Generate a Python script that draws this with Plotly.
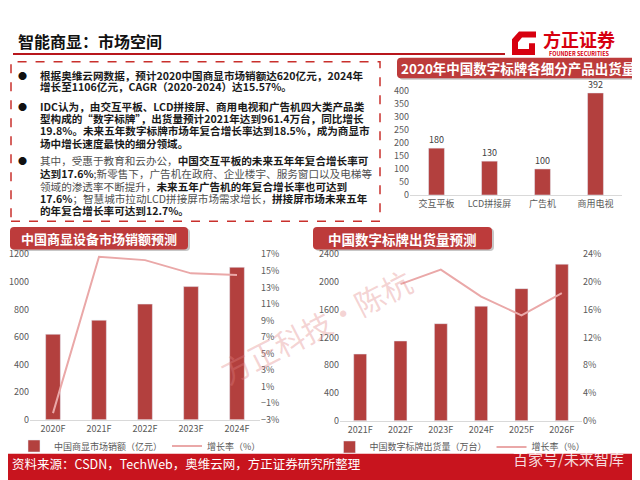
import plotly.graph_objects as go

# 2020 shipments by product (万台)
seg_products = ["交互平板", "LCD拼接屏", "广告机", "商用电视"]
seg_shipments = [180, 130, 100, 392]

# commercial display market sales forecast
sales_years = ["2020F", "2021F", "2022F", "2023F", "2024F"]
sales_value = [620, 722, 839, 966, 1106]
sales_growth = [-2.2, 16.7, 16.3, 14.7, 14.5]

# digital signage shipments forecast
signage_years = ["2021F", "2022F", "2023F", "2024F", "2025F", "2026F"]
signage_value = [961.4, 1150, 1400, 1652, 1905, 2258]
signage_growth = [None, 19.7, 21.8, 17.9, 15.2, 18.4]

BAR = "#b3403e"
LINE = "#eaa8a8"
BOX = "#bd3b3b"
FONT = "Noto Sans CJK SC"
W, H = 640, 480
OFF = 8  # page body margin pushes the figure 8px right/down


def px(x):
    return (x - OFF) / W


def py(y):
    return 1 - (y - OFF) / H


def rounded_box(x0, y0, x1, y1, r=4):
    # rounded rectangle in paper coords, built from pixel values
    a, b, c, d = px(x0), px(x1), py(y0), py(y1)
    rx, ry = r / W, r / H
    return (f"M{a + rx},{c} L{b - rx},{c} Q{b},{c} {b},{c - ry} "
            f"L{b},{d + ry} Q{b},{d} {b - rx},{d} L{a + rx},{d} "
            f"Q{a},{d} {a},{d + ry} L{a},{c - ry} Q{a},{c} {a + rx},{c} Z")


fig = go.Figure()

fig.add_trace(go.Bar(
    x=seg_products, y=seg_shipments, xaxis="x", yaxis="y",
    marker_color=BAR, width=0.3,
    name="数字标牌各细分产品出货量（万台）", legend="legend"))

fig.add_trace(go.Bar(
    x=sales_years, y=sales_value, xaxis="x2", yaxis="y2",
    marker_color=BAR, width=0.32,
    name="中国商显市场销额（亿元）", legend="legend2"))
fig.add_trace(go.Scatter(
    x=sales_years, y=sales_growth, xaxis="x2", yaxis="y3", mode="lines",
    line=dict(color=LINE, width=2), name="增长率（%）", legend="legend2"))

fig.add_trace(go.Bar(
    x=signage_years, y=signage_value, xaxis="x3", yaxis="y4",
    marker_color=BAR, width=0.32,
    name="中国数字标牌出货量（万台）", legend="legend3"))
fig.add_trace(go.Scatter(
    x=signage_years, y=signage_growth, xaxis="x3", yaxis="y5", mode="lines",
    line=dict(color=LINE, width=2), name="增长率（%）", legend="legend3"))

tick = dict(size=9, color="#595959")
xcommon = dict(showline=True, linecolor="#d9d9d9", ticks="", tickfont=tick,
               showgrid=False, fixedrange=True)
ycommon = dict(showgrid=False, zeroline=False, tickfont=tick, ticks="")

legend_common = dict(orientation="h", font=dict(size=9, color="#595959"),
                     bgcolor="rgba(0,0,0,0)", itemwidth=30,
                     xanchor="center", yanchor="middle", tracegroupgap=0)

fig.update_layout(
    width=W, height=H, margin=dict(l=0, r=0, t=0, b=0),
    paper_bgcolor="white", plot_bgcolor="rgba(0,0,0,0)",
    font=dict(family=FONT, color="#333333"),
    xaxis=dict(domain=[px(410), px(622)], anchor="y", **xcommon),
    yaxis=dict(domain=[py(193), py(86)], anchor="x", range=[0, 400],
               dtick=50, **ycommon),
    xaxis2=dict(domain=[px(30), px(260)], anchor="y2", **xcommon),
    yaxis2=dict(domain=[py(424), py(254)], anchor="x2", range=[0, 1200],
                dtick=200, **ycommon),
    yaxis3=dict(overlaying="y2", side="right", anchor="x2", range=[-3, 17],
                tick0=1, dtick=2, ticksuffix="%", **ycommon),
    xaxis3=dict(domain=[px(340), px(582)], anchor="y4", **xcommon),
    yaxis4=dict(domain=[py(425), py(254)], anchor="x3", range=[0, 2400],
                dtick=400, **ycommon),
    yaxis5=dict(overlaying="y4", side="right", anchor="x3", range=[0, 24],
                dtick=4, ticksuffix="%", **ycommon),
    legend=dict(x=px(522), y=py(216), **legend_common),
    legend2=dict(x=px(140), y=py(451), **legend_common),
    legend3=dict(x=px(460), y=py(452), **legend_common),
)

shapes = []
# header rule
shapes.append(dict(type="line", xref="paper", yref="paper",
                   x0=px(13), x1=px(505), y0=py(48), y1=py(48),
                   line=dict(color="#b8161c", width=2)))
# dashed text frame
shapes.append(dict(type="rect", xref="paper", yref="paper",
                   x0=px(11), x1=px(380), y0=py(220), y1=py(56),
                   line=dict(color="#c9302c", width=1.5, dash="dash")))
# title boxes with shadows
for (x0, y0, x1, y1) in [(397, 52, 640, 73), (10, 226, 188, 249),
                         (313, 226, 492, 249)]:
    shapes.append(dict(type="path", xref="paper", yref="paper", layer="below",
                       path=rounded_box(x0 + 2, y0 + 1.5, min(x1 + 2, W), y1 + 1.5),
                       fillcolor="rgba(0,0,0,0.22)", line=dict(width=0)))
    shapes.append(dict(type="path", xref="paper", yref="paper", layer="below",
                       path=rounded_box(x0, y0, x1, y1),
                       fillcolor=BOX, line=dict(width=0)))
# footer band
shapes.append(dict(type="rect", xref="paper", yref="paper",
                   x0=px(0), x1=px(650), y0=py(490), y1=py(459),
                   fillcolor="#c8141e", line=dict(width=0), layer="above"))
# logo mark
logo = [(519, 25), (536, 25), (536, 31), (522, 31), (518, 36), (518, 43),
        (529, 43), (529, 37), (535, 37), (535, 49), (512, 49), (512, 33)]
path = "M" + " L".join(f"{px(x)},{py(y)}" for x, y in logo) + " Z"
shapes.append(dict(type="path", xref="paper", yref="paper", path=path,
                   fillcolor="#d7000f", line=dict(width=0)))
fig.update_layout(shapes=shapes)

ann = []

# bar value labels, anchored on the data
for cat, val in zip(seg_products, seg_shipments):
    ann.append(dict(x=cat, y=val, xref="x", yref="y", text=str(val),
                    showarrow=False, yanchor="bottom", yshift=0,
                    font=dict(size=9, color="#404040", family=FONT)))


def text(x, y, s, size=11, color="#1a1a1a", anchor="left", **kw):
    ann.append(dict(x=px(x), y=py(y), xref="paper", yref="paper", text=s,
                    showarrow=False, xanchor=anchor, yanchor="middle",
                    font=dict(size=size, color=color, family=FONT), **kw))


text(16, 35, "<b>智能商显：市场空间</b>", size=16, color="#111111")
text(541, 33, "<b>方正证券</b>", size=18, color="#d7000f")
text(579, 48, "<b>FOUNDER SECURITIES</b>", size=5.5, color="#d7000f",
     anchor="center")

g = "<span style='color:#505050'>%s</span>"
lines = [
    (70, "<b>根据奥维云网数据，预计2020中国商显市场销额达620亿元，2024年</b>", True),
    (82, "<b>增长至1106亿元，CAGR（2020-2024）达15.57%。</b>", False),
    (102, "<b>IDC认为，由交互平板、LCD拼接屏、商用电视和广告机四大类产品类</b>", True),
    (114.5, "<b>型构成的“数字标牌”，出货量预计2021年达到961.4万台，同比增长</b>", False),
    (127, "<b>19.8%。未来五年数字标牌市场年复合增长率达到18.5%，成为商显市</b>", False),
    (140, "<b>场中增长速度最快的细分领域。</b>", False),
    (158, g % "其中，受惠于教育和云办公，" + "<b>中国交互平板的未来五年年复合增长率可</b>", True),
    (171, "<b>达到17.6%</b>" + g % ";新零售下，广告机在政府、企业楼宇、服务窗口以及电梯等", False),
    (184, g % "领域的渗透率不断提升，" + "<b>未来五年广告机的年复合增长率也可达到</b>", False),
    (196.5, "<b>17.6%</b>" + g % "；智慧城市拉动LCD拼接屏市场需求增长，" + "<b>拼接屏市场未来五年</b>", False),
    (209, "<b>的年复合增长率可达到12.7%。</b>", False),
]
for y, s, bullet in lines:
    text(38, y, s, size=10.6)
    if bullet:
        text(22, y, "●", size=9, color="#111111", anchor="center")

text(518, 62.5, "<b>2020年中国数字标牌各细分产品出货量</b>", size=13.5,
     color="white", anchor="center")
text(99, 238, "<b>中国商显设备市场销额预测</b>", size=13, color="white",
     anchor="center")
text(402, 238, "<b>中国数字标牌出货量预测</b>", size=13.5, color="white",
     anchor="center")

text(316, 328, "方正科技·陈杭", size=30, color="rgba(225,130,130,0.35)",
     anchor="center", textangle=-27)

text(10, 469, "资料来源：CSDN，TechWeb，奥维云网，方正证券研究所整理",
     size=12.5, color="white")
text(568, 464, "百家号/未来智库", size=15, color="rgba(255,255,255,0.85)",
     anchor="center")
fig.update_layout(annotations=ann)

fig.write_html("out.html")
